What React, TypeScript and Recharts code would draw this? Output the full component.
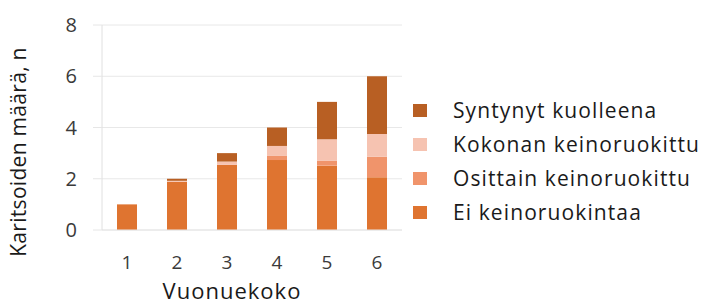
import { BarChart, Bar, XAxis, YAxis, CartesianGrid, Legend } from 'recharts';

const litterSizes = ['1', '2', '3', '4', '5', '6'];
const eiKeinoruokintaa = [1, 1.88, 2.54, 2.73, 2.51, 2.06];
const osittain = [0, 0, 0, 0.16, 0.2, 0.8];
const kokonan = [0, 0.04, 0.13, 0.39, 0.83, 0.89];
const syntynytKuolleena = [0, 0.08, 0.33, 0.72, 1.46, 2.25];
const yTicks = [0, 2, 4, 6, 8];

const data = litterSizes.map((size, i) => ({
  size,
  ei: eiKeinoruokintaa[i],
  osittain: osittain[i],
  kokonan: kokonan[i],
  kuollut: syntynytKuolleena[i],
}));

const FONT = '"Open Sans", sans-serif';

const series = [
  { key: 'ei', name: 'Ei keinoruokintaa', color: '#DF7430' },
  { key: 'osittain', name: 'Osittain keinoruokittu', color: '#F0946B' },
  { key: 'kokonan', name: 'Kokonan keinoruokittu', color: '#F6C3B1' },
  { key: 'kuollut', name: 'Syntynyt kuolleena', color: '#B85F23' },
];

function LegendList() {
  const items = [...series].reverse();
  return (
    <div style={{ fontFamily: FONT }}>
      {items.map((s) => (
        <div key={s.key} style={{ display: 'flex', alignItems: 'center', height: 34 }}>
          <span style={{ width: 14, height: 13, background: s.color, display: 'inline-block', marginRight: 26 }} />
          <span style={{ fontSize: 21, letterSpacing: '1.1px', color: '#1a1a1a', lineHeight: 1 }}>{s.name}</span>
        </div>
      ))}
    </div>
  );
}

export default function App() {
  return (
    <div style={{ position: 'absolute', left: 0, top: 0, width: 708, height: 304, background: '#fff' }}>
      <BarChart width={708} height={304} data={data} margin={{ top: 25, right: 306, bottom: 0, left: 0 }} barSize={20}>
        <CartesianGrid vertical={false} stroke="#e8e8e8" />
        <XAxis
          dataKey="size"
          height={74}
          axisLine={{ stroke: '#e6e6e6' }}
          tickLine={false}
          tickMargin={20}
          tick={{ fontSize: 19, fill: '#3a3a3a', fontFamily: FONT }}
          label={{
            content: () => (
              <text x={232} y={299} textAnchor="middle" fontSize={22} letterSpacing="1px" fill="#1a1a1a" fontFamily={FONT}>
                Vuonuekoko
              </text>
            ),
          }}
        />
        <YAxis
          width={102}
          domain={[0, 8]}
          ticks={yTicks}
          axisLine={{ stroke: '#e0e0e0' }}
          tickLine={{ stroke: '#e6e6e6' }}
          tickSize={9}
          tickMargin={16}
          tick={{ fontSize: 20, fill: '#3a3a3a', fontFamily: FONT }}
          label={{
            content: () => (
              <text x={26} y={152} transform="rotate(-90 26 152)" textAnchor="middle" fontSize={21} letterSpacing="0.3px" fill="#1a1a1a" fontFamily={FONT}>
                Karitsoiden määrä, n
              </text>
            ),
          }}
        />
        <Legend
          layout="vertical"
          align="center"
          verticalAlign="middle"
          content={() => <LegendList />}
          wrapperStyle={{ left: 413, top: 93, width: 295 }}
        />
        {series.map((s) => (
          <Bar key={s.key} dataKey={s.key} name={s.name} stackId="a" fill={s.color} isAnimationActive={false} />
        ))}
      </BarChart>
    </div>
  );
}
